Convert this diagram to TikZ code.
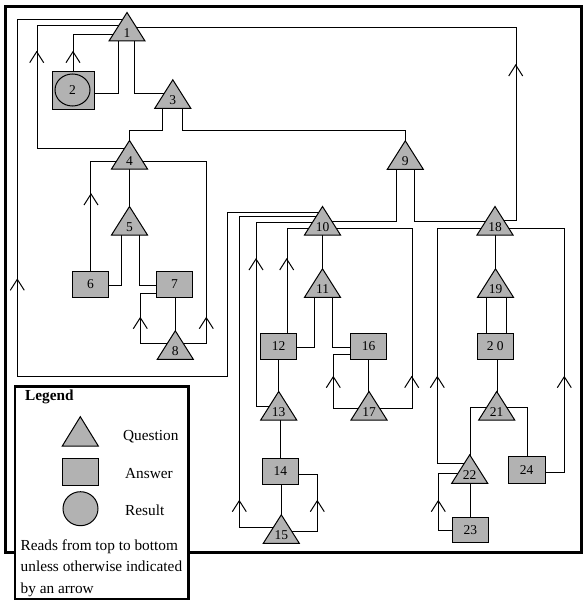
\documentclass[tikz,border=0pt]{standalone}
\usepackage{fontspec}
\setmainfont{Liberation Serif}
\usetikzlibrary{shapes.geometric}
\pgfdeclarelayer{bg}
\pgfsetlayers{bg,main}
\definecolor{shapegray}{RGB}{178,178,178}
\tikzset{
  shp/.style={draw=black, fill=shapegray, line width=1pt},
  numlbl/.style={inner sep=0pt, font=\fontsize{13.5}{16}\selectfont},
  abox/.style={shp, minimum width=36pt, minimum height=26pt, inner sep=0pt, font=\fontsize{13.5}{16}\selectfont},
  legtext/.style={inner sep=0pt, anchor=base west, font=\fontsize{15.3}{18}\selectfont},
  chev/.pic={\draw[line width=1pt] (-7,11) -- (0,0) -- (7,11);},
}
\newcommand\Qnode[4]{%
  \filldraw[shp] (#2-18,#3) -- (#2,#3-28.5) -- (#2+18,#3) -- cycle;
  \node[numlbl] (#1) at (#2,#3-8) {#4};}
\begin{document}
\begin{tikzpicture}[x=1pt,y=-1pt,line width=1pt]
\useasboundingbox (0,0) rectangle (585,602);
\begin{pgfonlayer}{bg}\fill[white] (0,0) rectangle (585,602);\end{pgfonlayer}
\draw[line width=3pt] (5.5,6.5) rectangle (581.5,552);
% nodes
\Qnode{q1}{127}{41}{1}
\node[abox, minimum width=42pt, minimum height=38pt] (a2) at (73,90) {};
\node[draw, ellipse, line width=1pt, minimum width=35pt, minimum height=32pt, inner sep=0pt, font=\fontsize{13.5}{16}\selectfont] (r2) at (72.5,90) {2};
\Qnode{q3}{172.8}{108.3}{3}
\Qnode{q4}{129.5}{169}{4}
\Qnode{q5}{129.5}{235}{5}
\node[abox] (a6) at (90.5,284.2) {6};
\node[abox] (a7) at (174.5,284.2) {7};
\Qnode{q8}{175.3}{359.3}{8}
\Qnode{q9}{405.3}{169.3}{9}
\Qnode{q10}{322.5}{235}{10}
\Qnode{q11}{322.5}{297.3}{11}
\node[abox] (a12) at (278.5,346.3) {12};
\Qnode{q13}{278.7}{420}{13}
\node[abox] (a14) at (280.3,471.3) {14};
\Qnode{q15}{281.3}{543.3}{15}
\node[abox] (a16) at (368.5,346.3) {16};
\Qnode{q17}{369}{420}{17}
\Qnode{q18}{495}{235}{18}
\Qnode{q19}{495.5}{297.3}{19}
\node[abox] (a20) at (495.3,346.3) {2 0};
\Qnode{q21}{496.7}{420}{21}
\Qnode{q22}{469.7}{483.3}{22}
\node[abox, minimum height=25.4pt] (a23) at (470.3,530) {23};
\node[abox, minimum width=36.7pt, minimum height=26.6pt] (a24) at (526.7,470) {24};
% connectors
\begin{pgfonlayer}{bg}
\draw (q1 |- 0,19.3) -| (17.3,376) -| (227.3,211.7) -- (q10 |- 0,211.7);
\draw (q1 |- 0,25) -| (36.7,148) -- (q4 |- 0,148);
\draw (q1 |- 0,34) -| (a2.north);
\draw (a2.east |- 0,93) -| (118.3,0 |- q1);
\draw (134.3,0 |- q1) |- (q3 |- 0,93);
\draw (161.7,0 |- q3) |- (q4 |- 0,130) -- (q4);
\draw (182.3,0 |- q3) |- (q9 |- 0,130) -- (q9);
\draw (q4 |- 0,160.7) -| (a6.north);
\draw (q4 |- 0,160.7) -| (206.3,342.7) -- (q8 |- 0,342.7);
\draw (q4) -- (q5);
\draw (a6.east |- 0,285.3) -| (121.3,0 |- q5);
\draw (139,0 |- q5) |- (a7.west |- 0,285.3);
\draw (a7.west |- 0,292.7) -| (140.3,342.7) -- (q8 |- 0,342.7);
\draw (q8 |- a7.south) -- (q8);
\draw (396.3,0 |- q9) |- (q10 |- 0,221);
\draw (414.3,0 |- q9) |- (q18 |- 0,221);
\draw (q18 |- 0,220) -| (515.7,27) -- (q1 |- 0,27);
\draw (q10 |- 0,216) -| (239.3,527) -- (q15 |- 0,527);
\draw (q10 |- 0,222.3) -| (256,406) -- (q13 |- 0,406);
\draw (q10 |- 0,228.3) -| (286.7,0 |- a12.north);
\draw (q10 |- 0,228.3) -| (411.7,408.3) -- (q17 |- 0,408.3);
\draw (q10) -- (q11);
\draw (314.3,0 |- q11) |- (a12.east |- 0,346.7);
\draw (332.3,0 |- q11) |- (a16.west |- 0,346.7);
\draw (a12) -- (a12 |- q13);
\draw (a16.west |- 0,354) -| (333.3,408.3) -- (q17 |- 0,408.3);
\draw (a16) -- (a16 |- q17);
\draw (a14.north) -- (a14 |- q13);
\draw (a14.east |- 0,474.3) -| (317.3,531) -- (q15 |- 0,531);
\draw (q15 |- a14.south) -- (q15);
\draw (q18 |- 0,227.7) -| (437.3,463.3) -- (q22 |- 0,463.3);
\draw (q18 |- 0,227.7) -| (564.3,472.3) -- (a24.east |- 0,472.3);
\draw (q18) -- (q18 |- q19);
\draw (485.7,0 |- q19) -- (485.7,0 |- a20.north);
\draw (505.7,0 |- q19) -- (505.7,0 |- a20.north);
\draw (q21 |- a20.south) -- (q21);
\draw (q21 |- 0,407.3) -| (q22);
\draw (q21 |- 0,407.3) -| (a24.north);
\draw (q22 |- 0,473.3) -| (438.3,530) -- (a23.west |- 0,530);
\draw (q22) -- (q22 |- a23.north);
\end{pgfonlayer}
% arrow marks
\pic at (17.3,279.3) {chev};
\pic at (36.7,51.7) {chev};
\pic at (73,51.7) {chev};
\pic at (515.7,65) {chev};
\pic at (91,194) {chev};
\pic at (140.3,317.7) {chev};
\pic at (206.3,317.7) {chev};
\pic at (256,259) {chev};
\pic at (286.7,259) {chev};
\pic at (333.3,376.7) {chev};
\pic at (411.7,376.7) {chev};
\pic at (437.3,376.7) {chev};
\pic at (564.3,376.7) {chev};
\pic at (438.3,500.7) {chev};
\pic at (239.3,500.7) {chev};
\pic at (317.3,500.7) {chev};
% legend
\node[draw=black, fill=white, line width=2.5pt, minimum width=173.5pt, minimum height=212.5pt, inner sep=0pt] (leg) at (101.75,492.75) {};
\node[legtext, font=\fontsize{15.3}{18}\selectfont\bfseries] (legT) at (25,400.7) {Legend};
\filldraw[shp] (62.3,446) -- (80.3,416.7) -- (98.3,446) -- cycle;
\node[legtext] (lq) at (123,440) {Question};
\node[shp, minimum width=36pt, minimum height=26.7pt, inner sep=0pt] (lsq) at (80.3,471.7) {};
\node[legtext] (la) at (125,478.3) {Answer};
\node[shp, ellipse, minimum width=35pt, minimum height=34pt, inner sep=0pt] (lel) at (80.5,508.7) {};
\node[legtext] (lr) at (125,515) {Result};
\node[legtext] (t1) at (20.5,550) {Reads from top to bottom};
\node[legtext] (t2) at (20.5,571.8) {unless otherwise indicated};
\node[legtext] (t3) at (20.5,593.5) {by an arrow};
\end{tikzpicture}
\end{document}
